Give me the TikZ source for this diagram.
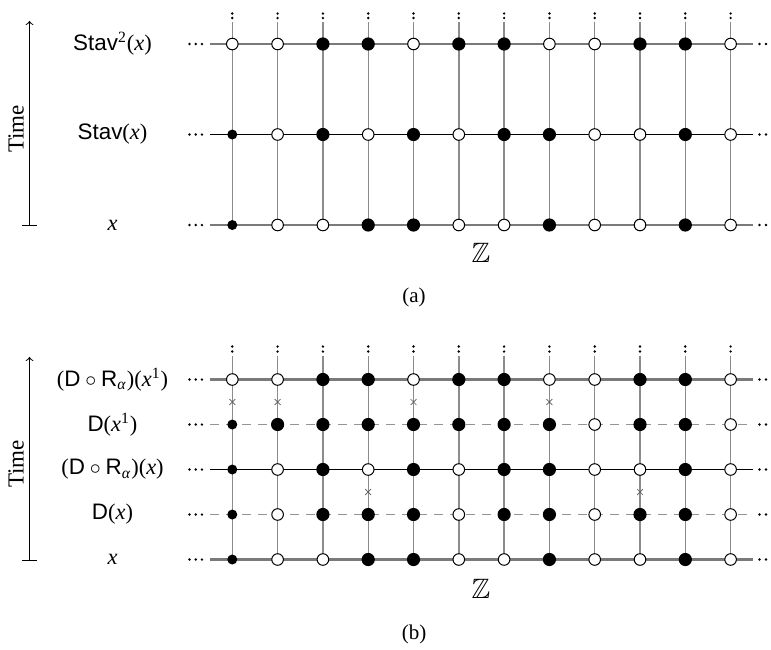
\documentclass[tikz,border=0pt]{standalone}
\usepackage{fontspec}
\setmainfont{Liberation Serif}
\setsansfont{Liberation Sans}
\usepackage{amssymb}
\usetikzlibrary{shapes.misc}
\pgfdeclarelayer{bg}
\pgfsetlayers{bg,main}
\newcommand\colx[1]{232.3+45.3*(#1-1)}
\newcommand\mkrow[3]{%
  \foreach \s [count=\i] in {#3}
    \node[\s] (#1-\i) at ({\colx{\i}},#2) {};
  \coordinate (#1-L) at (210,#2);
  \coordinate (#1-R) at (753,#2);
  \foreach \k in {0,1,2} {
    \node[pt] (#1-l\k) at ({189.5+6.2*\k},#2) {};
    \node[pt] (#1-r\k) at ({759.5+6.5*\k},#2) {};
  }%
}
\newcommand\mkhline[2]{\begin{pgfonlayer}{bg}\draw[#2] (#1-L) -- (#1-R);\end{pgfonlayer}}
\begin{document}
\begin{tikzpicture}[x=0.5pt,y=-0.5pt,
  vline/.style={draw=black!45, line width=0.7pt},
  hgray/.style={draw=black!52, line width=1.1pt},
  hblack/.style={draw=black, line width=0.6pt},
  hdash/.style={draw=black!42, line width=0.85pt, dash pattern=on 4.6pt off 3.4pt},
  sto/.style={circle, draw=black, fill=white, line width=0.5pt, inner sep=0pt, minimum size=5.8pt},
  stf/.style={circle, fill=black, inner sep=0pt, minimum size=6.6pt},
  sts/.style={circle, fill=black, inner sep=0pt, minimum size=5pt},
  pt/.style={circle, fill=black, inner sep=0pt, minimum size=1.35pt},
  xmark/.style={cross out, draw=black!65, line width=0.35pt, inner sep=0pt, minimum size=2.6pt},
  lbl/.style={font=\fontsize{11.2}{13}\selectfont},
  timelbl/.style={font=\fontsize{11.5}{13}\selectfont, rotate=90},
  zlbl/.style={font=\fontsize{14}{16}\selectfont},
  captxt/.style={font=\fontsize{10.5}{12}\selectfont},
  arr/.style={->, line width=0.5pt},
]
\useasboundingbox (0,0) rectangle (771,649);

% ---------- panel (a) ----------
\mkrow{a1}{44}{sto,sto,stf,stf,sto,stf,stf,sto,sto,stf,stf,sto}
\mkrow{a2}{134.5}{sts,sto,stf,sto,stf,sto,stf,stf,sto,sto,stf,sto}
\mkrow{a3}{225}{sts,sto,sto,stf,stf,sto,sto,stf,sto,sto,stf,sto}
\mkhline{a1}{hgray}
\mkhline{a2}{hblack}
\mkhline{a3}{hgray}
\foreach \i in {1,...,12} {
  \coordinate (at-\i) at ({\colx{\i}},21.5);
  \node[pt] (ad1-\i) at ({\colx{\i}},13.5) {};
  \node[pt] (ad2-\i) at ({\colx{\i}},18) {};
  \begin{pgfonlayer}{bg}
  \draw[vline] (at-\i) -- (a1-\i.center) -- (a2-\i.center) -- (a3-\i.center);
  \end{pgfonlayer}
}
\node[lbl] (la1) at (112.5,44) {\textsf{Stav}\textsuperscript{2}(\textit{x})};
\node[lbl] (la2) at (112.5,134.5) {\textsf{Stav}(\textit{x})};
\node[lbl] (la3) at (112.5,225) {\textit{x}};
\coordinate (ta0) at (29.5,225);
\coordinate (ta1) at (29.5,21);
\coordinate (tal) at (22,225);
\coordinate (tar) at (37,225);
\draw[arr] (ta0) -- (ta1);
\draw[line width=0.5pt] (tal) -- (tar);
\node[timelbl] (tma) at (16,129) {Time};
\node[zlbl] (za) at (481,253) {$\mathbb{Z}$};
\node[captxt] (capa) at (414,297) {(a)};

% ---------- panel (b) ----------
\mkrow{b1}{379.5}{sto,sto,stf,stf,sto,stf,stf,sto,sto,stf,stf,sto}
\mkrow{b2}{424.5}{sts,stf,stf,stf,stf,stf,stf,stf,sto,stf,stf,sto}
\mkrow{b3}{469.5}{sts,sto,stf,sto,stf,sto,stf,stf,sto,sto,stf,sto}
\mkrow{b4}{514.5}{sts,sto,stf,stf,stf,sto,stf,stf,sto,stf,stf,sto}
\mkrow{b5}{559.5}{sts,sto,sto,stf,stf,sto,sto,stf,sto,sto,stf,sto}
\mkhline{b1}{hgray}
\mkhline{b2}{hdash}
\mkhline{b3}{hblack}
\mkhline{b4}{hdash}
\mkhline{b5}{hgray}
\foreach \i in {1,...,12} {
  \coordinate (bt-\i) at ({\colx{\i}},355.5);
  \node[pt] (bd1-\i) at ({\colx{\i}},346.5) {};
  \node[pt] (bd2-\i) at ({\colx{\i}},351.5) {};
  \begin{pgfonlayer}{bg}
  \draw[vline] (bt-\i) -- (b1-\i.center) -- (b2-\i.center) -- (b3-\i.center) -- (b4-\i.center) -- (b5-\i.center);
  \end{pgfonlayer}
}
\foreach \i in {1,2,5,8} \node[xmark] (xu-\i) at ({\colx{\i}},402) {};
\foreach \i in {4,10} \node[xmark] (xl-\i) at ({\colx{\i}},492) {};
\node[lbl] (lb1) at (112.5,379.5) {(\textsf{D}${}\circ{}$\textsf{R}\textsubscript{\textit{α}})(\textit{x}\textsuperscript{1})};
\node[lbl] (lb2) at (112.5,424.5) {\textsf{D}(\textit{x}\textsuperscript{1})};
\node[lbl] (lb3) at (112.5,469.5) {(\textsf{D}${}\circ{}$\textsf{R}\textsubscript{\textit{α}})(\textit{x})};
\node[lbl] (lb4) at (112.5,514.5) {\textsf{D}(\textit{x})};
\node[lbl] (lb5) at (112.5,559.5) {\textit{x}};
\coordinate (tb0) at (29.5,560);
\coordinate (tb1) at (29.5,357);
\coordinate (tbl) at (22,560);
\coordinate (tbr) at (37,560);
\draw[arr] (tb0) -- (tb1);
\draw[line width=0.5pt] (tbl) -- (tbr);
\node[timelbl] (tmb) at (16,464) {Time};
\node[zlbl] (zb) at (481,589) {$\mathbb{Z}$};
\node[captxt] (capb) at (414,634) {(b)};
\end{tikzpicture}
\end{document}
